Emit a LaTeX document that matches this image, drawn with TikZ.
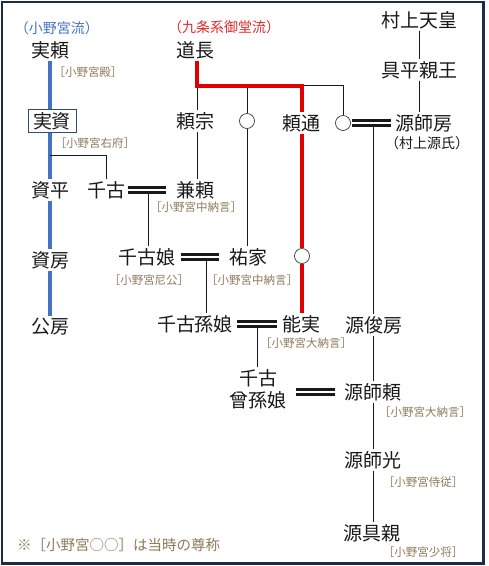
\documentclass[tikz,border=0pt]{standalone}
\usepackage{fontspec}
\setmainfont{Noto Sans CJK JP}
\definecolor{blu}{RGB}{68,114,196}
\definecolor{redc}{RGB}{224,0,0}
\definecolor{redt}{RGB}{226,40,40}
\definecolor{brn}{RGB}{140,123,90}
\definecolor{framec}{RGB}{30,43,69}
\definecolor{boxc}{RGB}{46,74,120}
\definecolor{ink}{RGB}{25,25,25}
\tikzset{
  nm/.style={inner xsep=1pt, inner ysep=2pt, font=\fontsize{19}{22}\selectfont, text=ink},
  lbl/.style={inner sep=0pt, font=\fontsize{11.5}{13}\selectfont, text=brn},
  hd/.style={inner sep=0pt, font=\fontsize{14}{16}\selectfont},
  kline/.style={line width=0.9pt, ink},
  bluel/.style={line width=3.5pt, blu},
  redl/.style={line width=3.5pt, redc},
  dbl/.style={double distance=2.6pt, line width=2.3pt, ink},
  circ/.style={circle, draw=ink!85, line width=0.7pt, minimum size=15pt, inner sep=0pt}
}
\begin{document}
\begin{tikzpicture}[x=1pt,y=-1pt]
\useasboundingbox (0,0) rectangle (489,566);
\draw[framec, line width=2.5pt] (2,2) rectangle (483.5,563.5);

% headings
\node[hd, text=blu] (hOno) at (57,28) {（小野宮流）};
\node[hd, text=redt] (hKujo) at (224,27) {（九条系御堂流）};

% names
\node[nm] (murakami) at (419,20) {村上天皇};
\node[nm] (tomohira) at (419,70) {具平親王};
\node[nm] (sanyori) at (50,50) {実頼};
\node[nm] (michinaga) at (195,50) {道長};
\node[nm, draw=boxc, line width=0.9pt, inner xsep=5pt, inner ysep=3pt] (sanesuke) at (52,121) {実資};
\node[nm] (yorimune) at (195,121) {頼宗};
\node[circ] (c1) at (247,121) {};
\node[nm] (yorimichi) at (301,123) {頼通};
\node[circ] (c2) at (343,123) {};
\node[nm] (morofusa) at (424,123) {源師房};
\node[hd, text=ink] (mgenji) at (427,143) {（村上源氏）};
\node[nm] (sukehira) at (50,190) {資平};
\node[nm] (senko) at (106.5,190) {千古};
\node[nm] (kaneyori) at (195,190) {兼頼};
\node[nm] (sukefusa) at (50,260) {資房};
\node[nm] (senkomusume) at (147,257) {千古娘};
\node[nm] (sukeie) at (248,257) {祐家};
\node[circ] (c3) at (302,256) {};
\node[nm] (kinfusa) at (50,327) {公房};
\node[nm] (magomusume) at (195,324) {千古孫娘};
\node[nm] (yoshizane) at (301,324) {能実};
\node[nm] (toshifusa) at (374,325) {源俊房};
\node[nm, align=center] (himago) at (258,389) {千古\\曾孫娘};
\node[nm] (moroyori) at (373,392) {源師頼};
\node[nm] (moromitsu) at (373,460) {源師光};
\node[nm] (tomochika) at (372,533) {源具親};

% labels
\node[lbl] (l1) at (88,72) {［小野宮殿］};
\node[lbl] (l2) at (95,143) {［小野宮右府］};
\node[lbl] (l3) at (196,207) {［小野宮中納言］};
\node[lbl] (l4) at (149,280) {［小野宮尼公］};
\node[lbl] (l5) at (252,280) {［小野宮中納言］};
\node[lbl] (l6) at (306,343) {［小野宮大納言］};
\node[lbl] (l7) at (425,412) {［小野宮大納言］};
\node[lbl] (l8) at (423,482) {［小野宮侍従］};
\node[lbl] (l9) at (423,552) {［小野宮少将］};
\node[lbl, anchor=west, font=\fontsize{14.5}{16}\selectfont] (note) at (17,545) {※［小野宮○○］は当時の尊称};

% junction coordinates
\coordinate (j1) at (50,155);
\coordinate (r1) at (197,86);
\coordinate (r2) at (302,86);
\coordinate (k2) at (302,85);
\coordinate (m1) at (373,123);
\coordinate (m2) at (148,190);
\coordinate (m3) at (206,257);
\coordinate (m4) at (257,324);

% blue line (Ono-no-miya)
\draw[bluel] (sanyori.south) -- (sanyori.south |- sanesuke.north);
\draw[bluel] (sanyori.south |- sanesuke.south) -- (sukehira.north);
\draw[bluel] (sukehira.south) -- (sukefusa.north);
\draw[bluel] (sukefusa.south) -- (kinfusa.north);

% thin lines
\draw[kline] (j1) -| (senko.north);
\draw[kline] (murakami.south) -- (tomohira.north);
\draw[kline] (tomohira.south) -- (tomohira.south |- morofusa.north);
\draw[kline] (r1) -- (yorimune.north -| r1);
\draw[kline] (c1.north |- r1) -- (c1.north);
\draw[kline] (k2) -| (c2.north);
\draw[kline] (yorimune.south -| r1) -- (kaneyori.north -| r1);
\draw[kline] (c1.south) -- (sukeie.north -| c1);
\draw[kline] (m1) -- (toshifusa.north -| m1);
\draw[kline] (toshifusa.south -| m1) -- (moroyori.north -| m1);
\draw[kline] (moroyori.south -| m1) -- (moromitsu.north -| m1);
\draw[kline] (moromitsu.south -| m1) -- (tomochika.north -| m1);
\draw[kline] (m2) -- (senkomusume.north -| m2);
\draw[kline] (m3) -- (magomusume.north -| m3);
\draw[kline] (m4) -- (himago.north -| m4);

% red line (Kujo / Mido)
\draw[redl] (michinaga.south -| r1) -- (r1) -- (r2) -- (r2 |- yorimichi.north);
\draw[redl] (yorimichi.south -| r2) -- (c3.north);
\draw[redl] (c3.south) -- (yoshizane.north -| c3);

% marriages
\draw[dbl, shorten <=1.5pt, shorten >=3pt] (c2.east) -- (morofusa.west);
\draw[dbl, shorten <=1pt, shorten >=8.5pt] (senko.east) -- (kaneyori.west);
\draw[dbl, shorten <=4pt, shorten >=8.5pt] (senkomusume.east) -- (sukeie.west);
\draw[dbl, shorten <=3pt, shorten >=3.5pt] (magomusume.east) -- (yoshizane.west);
\draw[dbl, shorten <=8pt, shorten >=8.5pt] (himago.east |- moroyori) -- (moroyori.west);
\end{tikzpicture}
\end{document}
